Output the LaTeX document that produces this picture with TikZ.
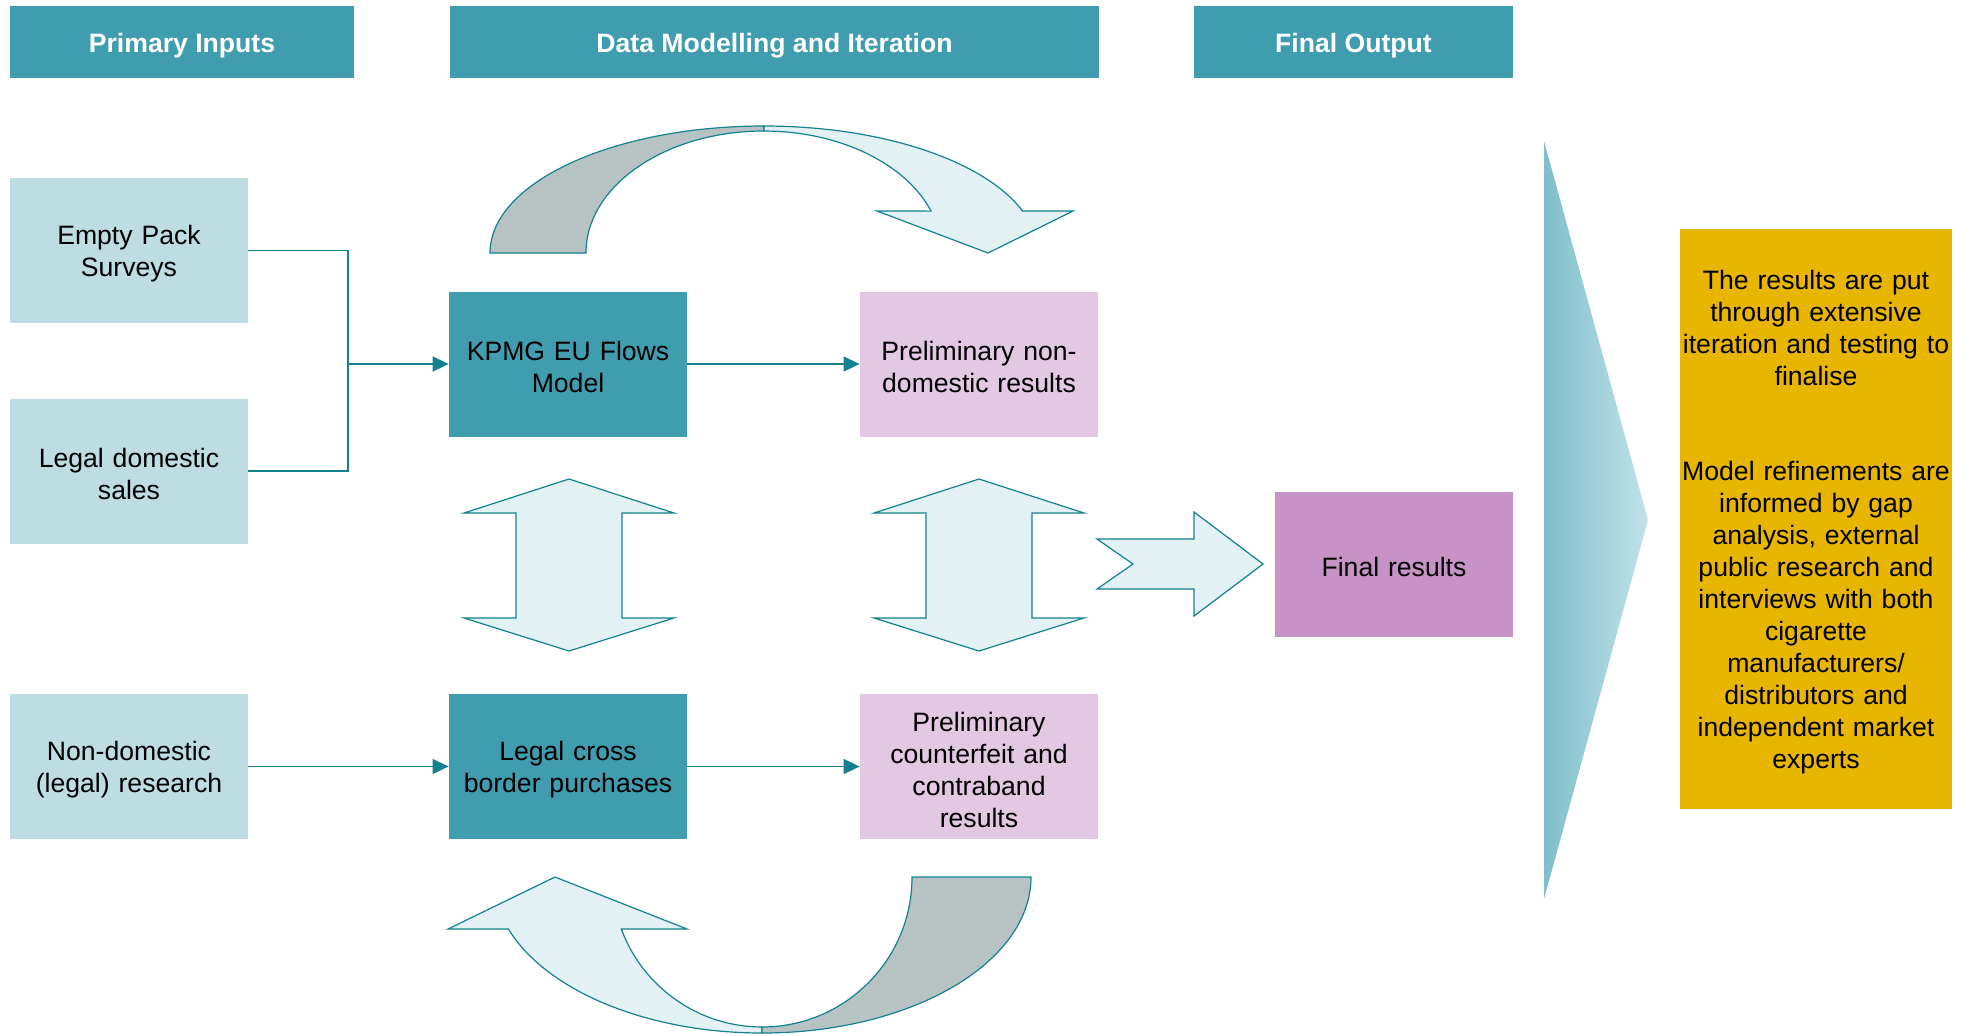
\documentclass[tikz,border=0pt]{standalone}
\usepackage{fontspec}
\setmainfont{Liberation Sans}
\usetikzlibrary{arrows.meta}

\definecolor{headteal}{RGB}{64,157,175}
\definecolor{inputblue}{RGB}{190,221,226}
\definecolor{prelimpink}{RGB}{226,200,226}
\definecolor{finalpink}{RGB}{199,146,197}
\definecolor{noteorange}{RGB}{232,181,0}
\definecolor{linkteal}{RGB}{19,129,143}
\definecolor{arrowfill}{RGB}{226,241,243}
\definecolor{backgray}{RGB}{183,195,195}
\definecolor{wedgedark}{RGB}{127,190,202}
\definecolor{wedgelight}{RGB}{194,226,232}

\newcommand{\boxfont}{\fontsize{13.3}{16}\selectfont}

\tikzset{
  header/.style={fill=headteal, text=white, font=\boxfont\bfseries, minimum height=36pt, inner sep=0pt,
    execute at begin node={\rule{0pt}{13.5pt}}},
  box/.style={minimum width=119pt, minimum height=72.5pt, text width=119pt, inner sep=0pt,
    align=center, font=\boxfont, execute at begin node={\rule{0pt}{13pt}}},
  input/.style={box, fill=inputblue},
  model/.style={box, fill=headteal},
  prelim/.style={box, fill=prelimpink},
  link/.style={draw=linkteal, line width=0.8pt},
  blockarrow/.style={draw=linkteal, fill=arrowfill, line width=0.6pt, line join=miter},
}

\begin{document}
\begin{tikzpicture}[x=0.5pt, y=-0.5pt, >={Triangle[length=8pt,width=7.5pt]}]
  \useasboundingbox (0,0) rectangle (1964,1035);

  % column headers
  \node[header, minimum width=172pt]   (hin)  at (182,42)    {Primary Inputs};
  \node[header, minimum width=324.5pt] (hmod) at (774.5,42)  {Data Modelling and Iteration};
  \node[header, minimum width=159.5pt] (hout) at (1353.5,42) {Final Output};

  % iteration arrow on top
  \draw[blockarrow, fill=backgray] (490,253)
    arc[start angle=180, end angle=90, x radius=137pt, y radius=63.5pt]
    -- (764,131)
    arc[start angle=90, end angle=180, x radius=89pt, y radius=61pt] -- cycle;
  \draw[blockarrow] (764,126)
    arc[start angle=90, end angle=19.3, x radius=137pt, y radius=63.5pt]
    -- (1073,211) -- (988,253) -- (877,211) -- (931.1,211.1)
    arc[start angle=20.1, end angle=90, x radius=89pt, y radius=61pt] -- cycle;

  % iteration arrow at the bottom
  \draw[blockarrow] (762,1033)
    arc[start angle=-90, end angle=-160.5, x radius=134.5pt, y radius=78pt]
    -- (448,929) -- (555,877) -- (687,929) -- (621.3,929)
    arc[start angle=-159.7, end angle=-90, x radius=75pt, y radius=75pt] -- cycle;
  \draw[blockarrow, fill=backgray] (1031,877)
    arc[start angle=0, end angle=-90, x radius=134.5pt, y radius=78pt]
    -- (762,1027)
    arc[start angle=-90, end angle=0, x radius=75pt, y radius=75pt] -- cycle;

  % up/down arrows between the two rows
  \foreach \cx in {569,979}
    \draw[blockarrow] (\cx,479) -- (\cx+105,513) -- (\cx+53,513) -- (\cx+53,618)
      -- (\cx+105,618) -- (\cx,651) -- (\cx-105,618) -- (\cx-53,618)
      -- (\cx-53,513) -- (\cx-105,513) -- cycle;

  % notched arrow to the final results
  \draw[blockarrow] (1097,539) -- (1194,539) -- (1194,512) -- (1263,564)
    -- (1194,616) -- (1194,589) -- (1097,589) -- (1133,564) -- cycle;

  % big wedge
  \shade[left color=wedgedark, right color=wedgelight] (1544,141) -- (1648,520) -- (1544,899) -- cycle;

  % inputs
  \node[input] (eps) at (129,250.5) {Empty Pack\\Surveys};
  \node[input] (lds) at (129,471)   {Legal domestic\\sales};
  \node[input] (ndr) at (129,766.5) {Non-domestic\\(legal) research};

  % models
  \node[model] (kpmg) at (568,364)   {KPMG EU Flows\\Model};
  \node[model] (lcb)  at (568,766.5) {Legal cross\\border purchases};

  % preliminary results
  \node[prelim] (pnd) at (979,364)   {Preliminary non-\\domestic results};
  \node[prelim] (pcc) at (979,766.5) {Preliminary\\counterfeit and\\contraband\\results};

  % output
  \node[box, fill=finalpink] (fin) at (1394,564) {Final results};
  \node[box, fill=noteorange, minimum width=136pt, text width=136pt, minimum height=290pt] (note) at (1816,519)
    {The results are put\\through extensive\\iteration and testing to\\finalise\\[31.7pt]
     Model refinements are\\informed by gap\\analysis, external\\public research and\\interviews with both\\cigarette\\manufacturers/\\distributors and\\independent market\\experts};

  % connectors
  \coordinate (join) at (348,364);
  \draw[link] (eps.east) -| (join);
  \draw[link] (lds.east) -| (join);
  \draw[link, ->] (join) -- (kpmg.west);
  \draw[link, ->] (ndr) -- (lcb);
  \draw[link, ->] (kpmg) -- (pnd);
  \draw[link, ->] (lcb) -- (pcc);
\end{tikzpicture}
\end{document}
